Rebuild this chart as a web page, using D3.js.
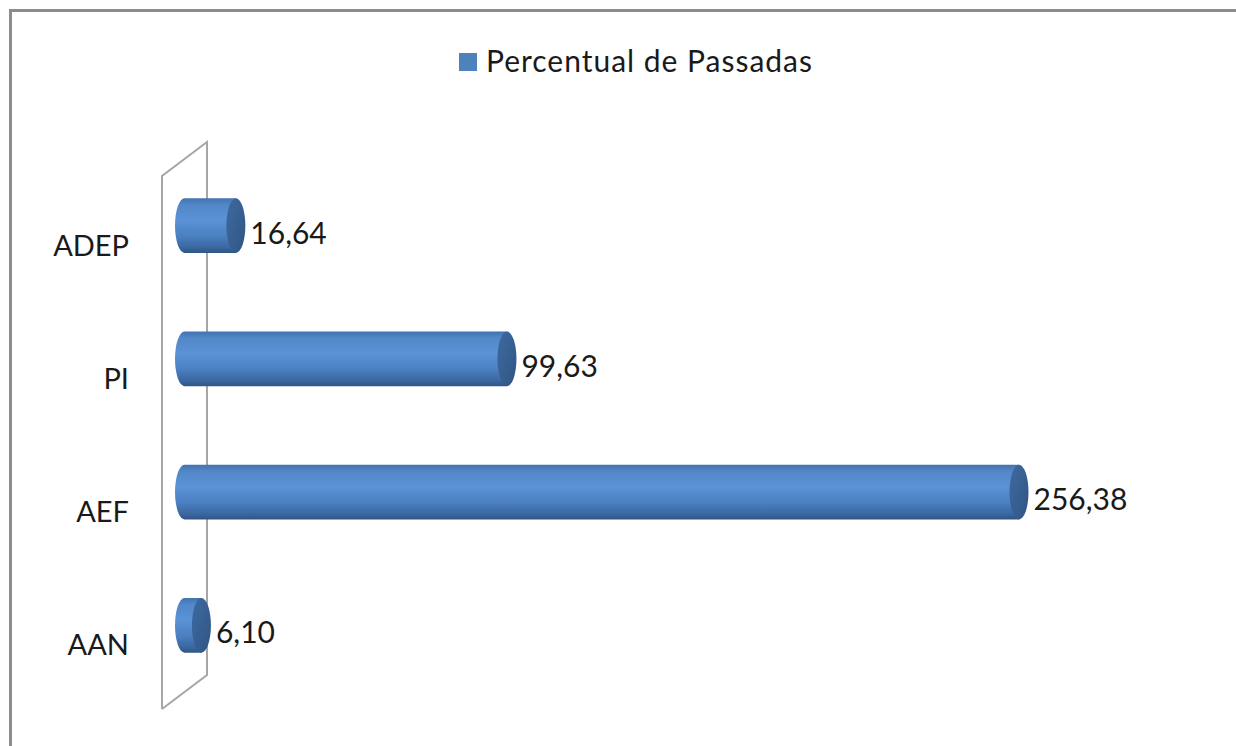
<!DOCTYPE html>
<html>
<head>
<meta charset="utf-8">
<script src="https://cdn.jsdelivr.net/npm/d3@7"></script>
<style>
  body { margin: 0; background: #fff; }
  text { font-family: Lato, "Open Sans", sans-serif; fill: #1a1a1a; }
</style>
</head>
<body>
<svg id="chart" width="1236" height="746"></svg>
<script>
// chart data
const categories = ["ADEP", "PI", "AEF", "AAN"];
const values = [16.64, 99.63, 256.38, 6.10];
const seriesName = "Percentual de Passadas";

const svg = d3.select("#chart");

// outer frame (only top and left edges are in view)
svg.append("path")
  .attr("d", "M10.5,1236 L10.5,10.5 L1236,10.5")
  .attr("fill", "none")
  .attr("stroke", "#8c8c8c")
  .attr("stroke-width", 3);

let x = d3.scaleLinear().domain([0, 300]).range([191, 1171]);
let y = d3.scaleBand().domain(categories).range([159, 692]).paddingInner(0.59).paddingOuter(0.295);

// gradients
let defs = svg.append("defs");
let bodyGrad = defs.append("linearGradient").attr("id", "body")
  .attr("x1", 0).attr("y1", 0).attr("x2", 0).attr("y2", 1);
[[0, "#4373b0"], [0.12, "#5287c8"], [0.4, "#5b93d7"], [0.7, "#4a7fc0"], [0.9, "#3a679f"], [1, "#2f5585"]]
  .forEach(s => bodyGrad.append("stop").attr("offset", s[0]).attr("stop-color", s[1]));
let capGrad = defs.append("linearGradient").attr("id", "cap")
  .attr("x1", 0).attr("y1", 0).attr("x2", 1).attr("y2", 1);
[[0, "#3f6aa0"], [1, "#2f5584"]]
  .forEach(s => capGrad.append("stop").attr("offset", s[0]).attr("stop-color", s[1]));

//--------------------------------------------------
// 3D axis wall
//--------------------------------------------------
let yTop = y.range()[0], yBot = y.range()[1];
let back = x(0) + 16, front = x(0) - 29, dz = 17;
svg.append("path")
  .attr("d", `M${front},${yBot + dz} L${front},${yTop + dz} L${back},${yTop - dz} L${back},${yBot - dz} L${front},${yBot + dz}`)
  .attr("fill", "none")
  .attr("stroke", "#a6a6a6")
  .attr("stroke-width", 2);

//--------------------------------------------------
// cylinders
//--------------------------------------------------
let rx = 9.5;
let bars = svg.selectAll(".bar")
  .data(categories.map((c, i) => ({cat: c, v: values[i]})))
  .enter().append("g").attr("class", "bar");

bars.append("path")
  .attr("d", d => {
    let t = y(d.cat), h = y.bandwidth(), ry = h / 2;
    let l = x(0) - 16 + rx, r = x(d.v) - rx;
    return `M${r},${t} L${l},${t} A${rx},${ry} 0 0 0 ${l},${t + h} L${r},${t + h} Z`;
  })
  .attr("fill", "url(#body)");

bars.append("ellipse")
  .attr("cx", d => x(d.v) - rx)
  .attr("cy", d => y(d.cat) + y.bandwidth() / 2)
  .attr("rx", rx)
  .attr("ry", y.bandwidth() / 2)
  .attr("fill", "url(#cap)");

// value labels
bars.append("text")
  .attr("x", d => x(d.v) + 5)
  .attr("y", d => y(d.cat) + y.bandwidth() / 2 + 18)
  .style("font-size", "30px")
  .text(d => d3.format(".2f")(d.v).replace(".", ","));

// category labels
svg.selectAll(".cat")
  .data(categories)
  .enter().append("text")
  .attr("class", "cat")
  .attr("x", 129)
  .attr("y", d => y(d) + y.bandwidth() / 2 + 30)
  .attr("text-anchor", "end")
  .style("font-size", "29px")
  .text(d => d);

//--------------------------------------------------
// legend
//--------------------------------------------------
svg.append("rect")
  .attr("x", 459).attr("y", 53)
  .attr("width", 18).attr("height", 18)
  .attr("fill", "#4f81bd");
svg.append("text")
  .attr("x", 486).attr("y", 72)
  .attr("textLength", 326)
  .attr("lengthAdjust", "spacing")
  .style("font-size", "30px")
  .text(seriesName);
</script>
</body>
</html>
